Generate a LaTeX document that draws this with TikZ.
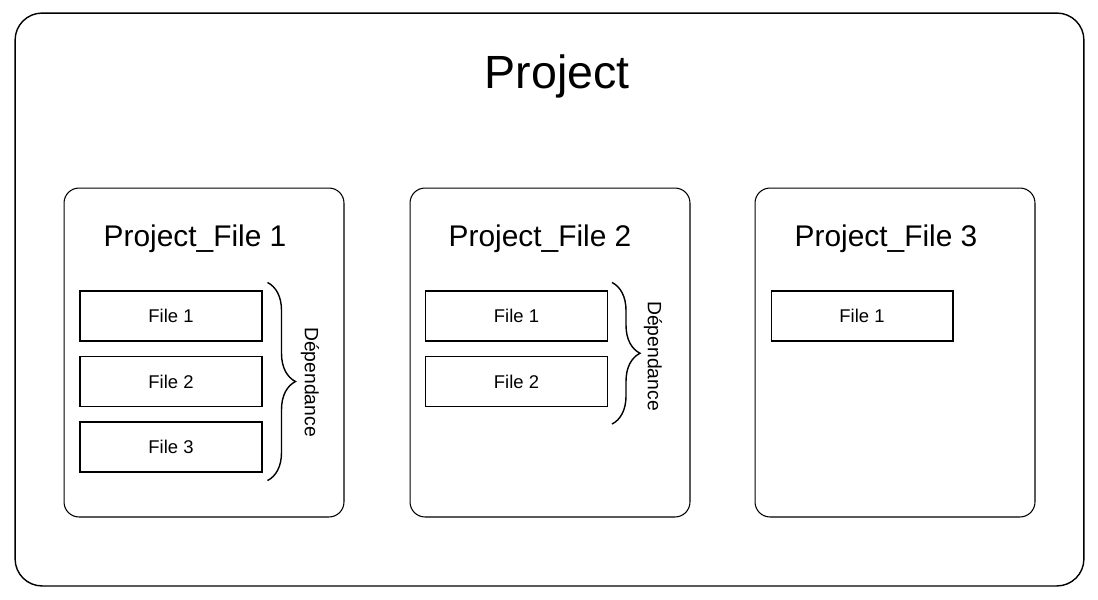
\documentclass[tikz,border=0pt]{standalone}
\usepackage{fontspec}
\setmainfont{Liberation Sans}
\usetikzlibrary{decorations.pathreplacing}

\begin{document}
\begin{tikzpicture}[x=0.02cm, y=-0.02cm, line width=0.6pt]
    \tikzstyle{project box}=[draw, rounded corners=0.54cm, minimum width=21.38cm, minimum height=11.46cm, line width=0.8pt, inner sep=0pt]
    \tikzstyle{part box}=[draw, rounded corners=0.3cm, minimum width=5.6cm, minimum height=6.58cm, inner sep=0pt]
    \tikzstyle{file}=[draw, rectangle, minimum width=3.64cm, minimum height=1cm, inner sep=0pt, font=\fontsize{10.5}{12}\selectfont]
    \tikzstyle{title}=[anchor=base, font=\fontsize{17}{20}\selectfont]
    \tikzstyle{dep}=[rotate=-90, font=\fontsize{11}{13}\selectfont]
    \tikzstyle{brace}=[decorate, decoration={brace, amplitude=0.56cm}, line width=0.8pt]

    \useasboundingbox (0,0) rectangle (1098,599);

    \node[project box] (P) at (549.5,299.5) {};
    \node[anchor=base, font=\fontsize{26.5}{30}\selectfont] (P-title) at (557,88) {Project};

    % the three project files
    \foreach \i/\x/\t in {1/204/195, 2/550/540, 3/895/886}{
        \node[part box] (B-\i) at (\x,352.5) {};
        \node[title] (T-\i) at (\t,246) {Project\_File \i};
    }

    % files inside
    \node[file] (F1-1) at (171,316) {File 1};
    \node[file] (F1-2) at (171,381.5) {File 2};
    \node[file] (F1-3) at (171,447) {File 3};
    \node[file] (F2-1) at (516.5,316) {File 1};
    \node[file] (F2-2) at (516.5,381.5) {File 2};
    \node[file] (F3-1) at (862,316) {File 1};

    % dependencies
    \draw[brace] ([shift={(5,-8)}]F1-1.north east) -- ([shift={(5,8)}]F1-3.south east);
    \draw[brace] ([shift={(4,-8)}]F2-1.north east) -- ([shift={(4,17)}]F2-2.south east);
    \node[dep] (D-1) at (310,382) {Dépendance};
    \node[dep] (D-2) at (653,356) {Dépendance};
\end{tikzpicture}
\end{document}
